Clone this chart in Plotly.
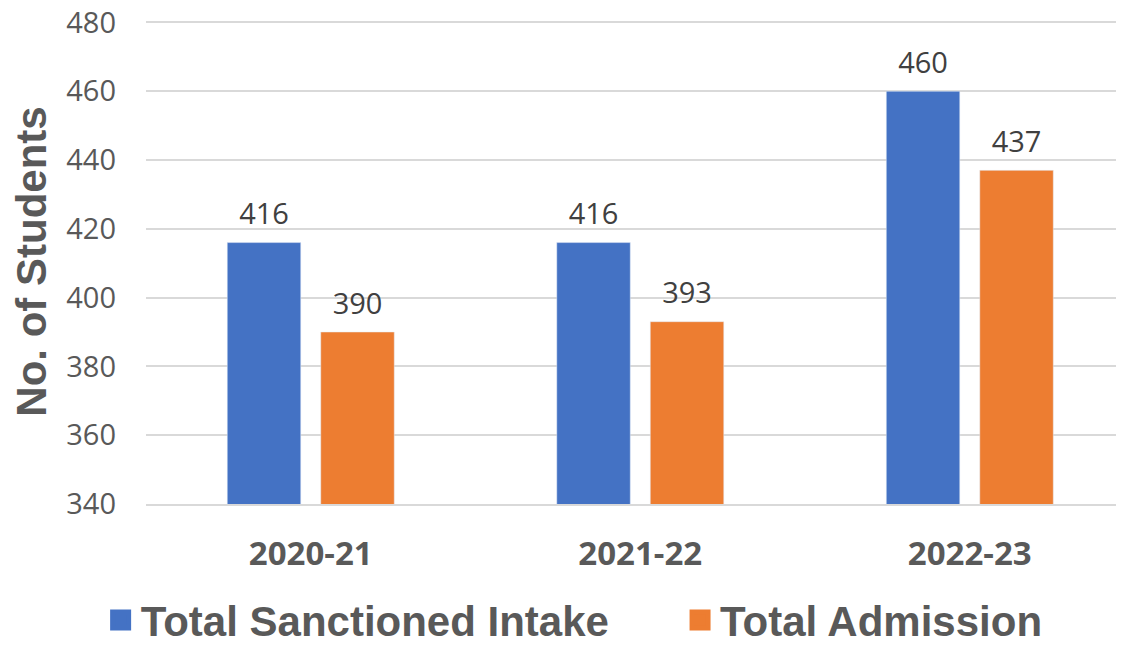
import plotly.graph_objects as go

categories = ["2020-21", "2021-22", "2022-23"]
sanctioned = [416, 416, 460]
admission = [390, 393, 437]
series_names = ["Total Sanctioned Intake", "Total Admission"]
colors = ["#4472C4", "#ED7D31"]
legend_ids = ["legend", "legend2"]

fig = go.Figure()
for name, vals, col in zip(series_names, [sanctioned, admission], colors):
    fig.add_trace(go.Bar(
        x=categories, y=vals, name=name, marker_color=col,
        showlegend=False, offsetgroup=name, alignmentgroup="a",
    ))
# data labels, grouped to sit over their bars, with an invisible marker to lift them
for name, vals, col in zip(series_names, [sanctioned, admission], colors):
    fig.add_trace(go.Scatter(
        x=categories, y=vals, mode="markers+text", name=name,
        marker=dict(size=16, opacity=0, color=col),
        text=[str(v) for v in vals], textposition="top center",
        textfont=dict(family="Open Sans, Liberation Sans", size=29, color="#404040"),
        cliponaxis=False, showlegend=False, offsetgroup=name, alignmentgroup="a",
        hoverinfo="skip",
    ))
# legend entries
for name, col, lg in zip(series_names, colors, legend_ids):
    fig.add_trace(go.Scatter(
        x=[categories[0]], y=[None], mode="markers", name=name, legend=lg,
        marker=dict(symbol="square", size=16, color=col, line=dict(color=col, width=5)),
        showlegend=True,
    ))

legend_font = dict(family="Liberation Sans, Arial", size=42, color="#595959", weight="bold")
fig.update_layout(
    width=1116, height=637,
    paper_bgcolor="white", plot_bgcolor="white",
    margin=dict(l=138, r=0, t=10.56, b=141, autoexpand=False),
    barmode="group", bargap=0.4325, bargroupgap=0.214,
    scattermode="group", scattergap=0.4325,
    showlegend=True,
    legend=dict(orientation="h", x=0.083, xanchor="left", xref="container",
                y=0.039, yanchor="middle", yref="container", bgcolor="rgba(0,0,0,0)",
                font=legend_font, itemwidth=30),
    legend2=dict(orientation="h", x=0.6022, xanchor="left", xref="container",
                 y=0.039, yanchor="middle", yref="container", bgcolor="rgba(0,0,0,0)",
                 font=legend_font, itemwidth=30),
    xaxis=dict(range=[-0.5, 2.468],
               tickfont=dict(family="Open Sans, Liberation Sans", size=33, color="#595959", weight="bold"),
               showline=True, linecolor="#D9D9D9", linewidth=1.5, ticks="", ticklabelstandoff=20,
               automargin=False),
    yaxis=dict(range=[340, 481], tickvals=[340, 360, 380, 400, 420, 440, 460, 480],
               showgrid=True, gridcolor="#D9D9D9", gridwidth=1.5,
               zeroline=False, automargin=False, ticklabeloverflow="allow",
               tickfont=dict(family="Open Sans, Liberation Sans", size=29, color="#595959"),
               ticklabelstandoff=29,
               title=dict(text="No. of Students", standoff=12,
                          font=dict(family="Liberation Sans, Arial", size=42, color="#595959", weight="bold"))),
)

fig.write_html("out.html")
